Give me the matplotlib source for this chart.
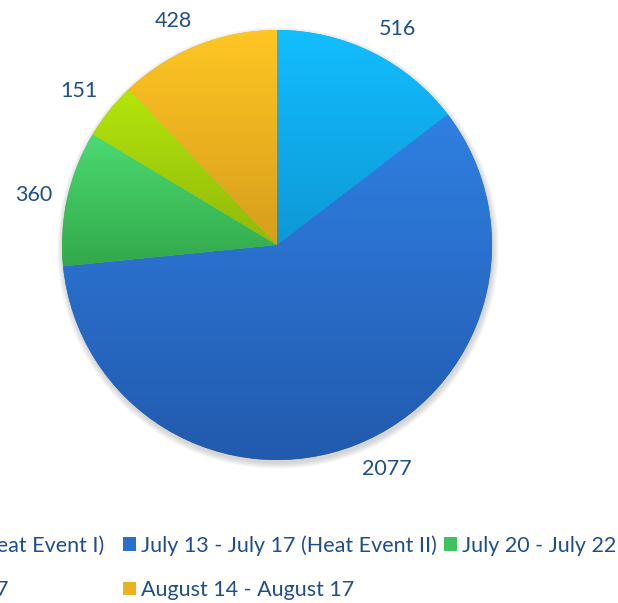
import numpy as np
import matplotlib
matplotlib.use('Agg')
import matplotlib.pyplot as plt
from matplotlib.patches import Circle
from matplotlib.colors import to_rgb

# ---- data ----
legend_labels = ["June 6 - July 10 (Heat Event I)",
                 "July 13 - July 17 (Heat Event II)",
                 "July 20 - July 22",
                 "August 3 - August 7",
                 "August 14 - August 17"]
values = [516, 2077, 360, 151, 428]
value_labels = [str(v) for v in values]

top_colors = ['#12BEFF', '#2F80E2', '#4CDB72', '#B4E60C', '#FFC624']
bottom_colors = ['#0E98D6', '#225AAE', '#32A84A', '#90B80A', '#D69E1C']
mid_colors = ['#10ADEB', '#2A6FCB', '#40C25E', '#A2CF0B', '#EBB220']
text_color = '#1F4E8C'

plt.rcParams['font.family'] = ['Lato', 'DejaVu Sans']

W, H = 618, 603
fig = plt.figure(figsize=(W / 100, H / 100), dpi=100)
ax = fig.add_axes([0, 0, 1, 1])

cx, cy, R = 277, 358, 215

# soft shadow
for k in range(7):
    ax.add_patch(Circle((cx + 1, cy - 3), R + 0.3 + k * 0.9, facecolor='#808080',
                        edgecolor='none', alpha=0.05, zorder=0))

wedges, texts = ax.pie(values, labels=value_labels, colors=mid_colors,
                       startangle=90, counterclock=False, center=(cx, cy),
                       radius=R, labeldistance=1.07, frame=True,
                       wedgeprops=dict(linewidth=0, antialiased=True),
                       textprops=dict(color=text_color, fontsize=15.5))
# outside-end style alignment
for t in texts:
    x, y = t.get_position()
    dx, dy = (x - cx) / (R * 1.07), (y - cy) / (R * 1.07)
    t.set_horizontalalignment('left' if dx > 0.25 else ('right' if dx < -0.25 else 'center'))
    t.set_verticalalignment('bottom' if dy > 0.3 else ('top' if dy < -0.3 else 'center'))

# vertical gradient on each wedge
for w, ct, cb in zip(wedges, top_colors, bottom_colors):
    w.set_zorder(1)
    ext = w.get_path().get_extents()
    n = 256
    tt = np.linspace(0, 1, n)[:, None]
    c0 = np.array(to_rgb(cb)); c1 = np.array(to_rgb(ct))
    img = (c0[None, :] * (1 - tt) + c1[None, :] * tt)[:, None, :]
    im = ax.imshow(img, extent=(ext.x0, ext.x1, ext.y0, ext.y1), origin='lower',
                   aspect='auto', interpolation='bilinear', zorder=2)
    im.set_clip_path(w)

ax.set_xlim(0, W)
ax.set_ylim(0, H)
ax.set_aspect('auto')
ax.axis('off')

order = [0, 3, 1, 4, 2]
shown = [legend_labels[i] for i in order]
shown[0] = shown[0] + '\u00a0\u00a0'   # Excel-like wider first legend column
leg = fig.legend([wedges[i] for i in order], shown,
                 ncol=3, loc='upper right', bbox_to_anchor=(616 / W, 1 - 535 / H),
                 frameon=False, borderpad=0, borderaxespad=0,
                 fontsize=15.5, handlelength=0.6, handleheight=0.6,
                 handletextpad=0.22, columnspacing=0.35, labelspacing=1.14)
for t in leg.get_texts():
    t.set_color(text_color)

fig.savefig('out.png', dpi=100)
